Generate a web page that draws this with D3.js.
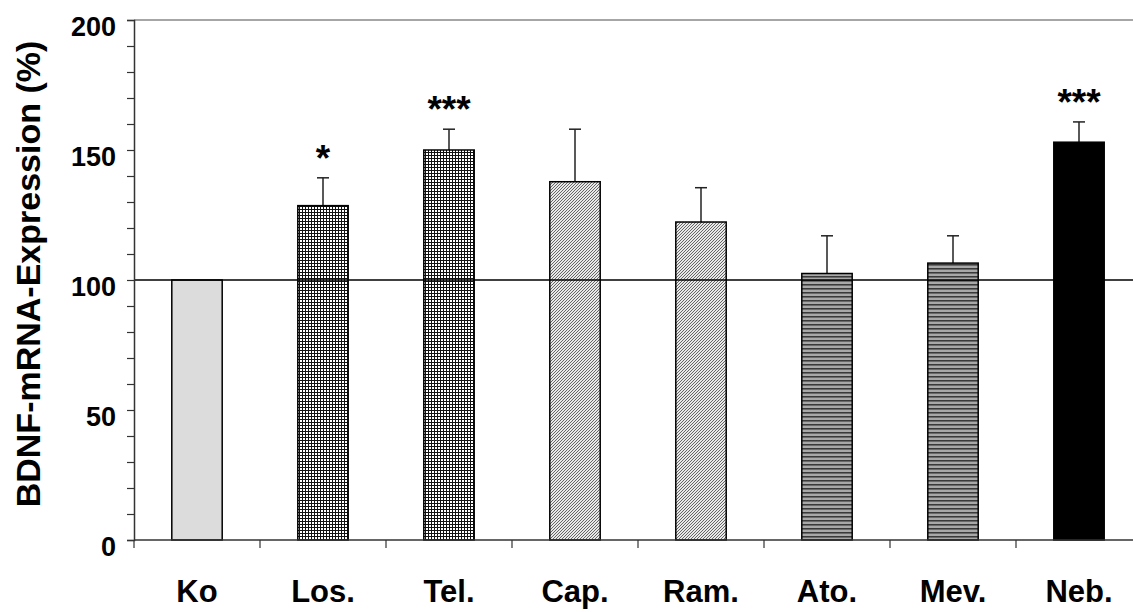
<!DOCTYPE html>
<html>
<head>
<meta charset="utf-8">
<script src="https://cdn.jsdelivr.net/npm/d3@7"></script>
<style>
  html, body { margin: 0; padding: 0; background: #fff; }
  svg { display: block; font-family: "Liberation Sans", Arial, sans-serif; }
</style>
</head>
<body>
<svg id="chart" width="1133" height="612"></svg>
<script>
// Treatment groups and BDNF mRNA expression (% of control)
const categories = ["Ko", "Los.", "Tel.", "Cap.", "Ram.", "Ato.", "Mev.", "Neb."];
const values     = [100, 128.6, 150, 137.8, 122.3, 102.5, 106.5, 153];
const errors     = [0, 10.7, 8, 20.2, 13.2, 14.5, 10.5, 7.8];
const stars      = ["", "*", "***", "", "", "", "", "***"];
const fills      = ["ko", "grid", "grid", "diag", "diag", "horiz", "horiz", "solid"];
const yTicks     = [0, 50, 100, 150, 200];
const yMinor     = d3.range(0, 201, 10);

const svg = d3.select("#chart");
const margin = { left: 134, top: 20, bottom: 540 };
const bandW = 126;

const x = d3.scaleBand()
  .domain(categories)
  .range([margin.left, margin.left + bandW * categories.length])
  .paddingInner(0.6)
  .paddingOuter(0.3);

const y = d3.scaleLinear().domain([0, 200]).range([margin.bottom, margin.top]);

// fill patterns
const defs = svg.append("defs");

const grid = defs.append("pattern").attr("id", "grid")
  .attr("patternUnits", "userSpaceOnUse").attr("width", 3).attr("height", 3);
grid.append("rect").attr("width", 3).attr("height", 3).attr("fill", "#fff");
grid.append("rect").attr("x", 0).attr("y", 2).attr("width", 3).attr("height", 1).attr("fill", "#111");
grid.append("rect").attr("x", 2).attr("y", 0).attr("width", 1).attr("height", 3).attr("fill", "#111");

const diag = defs.append("pattern").attr("id", "diag")
  .attr("patternUnits", "userSpaceOnUse").attr("width", 3).attr("height", 3);
diag.append("rect").attr("width", 3).attr("height", 3).attr("fill", "#e8e8e8");
diag.append("rect").attr("x", 2).attr("y", 0).attr("width", 1).attr("height", 1).attr("fill", "#666");
diag.append("rect").attr("x", 1).attr("y", 1).attr("width", 1).attr("height", 1).attr("fill", "#666");
diag.append("rect").attr("x", 0).attr("y", 2).attr("width", 1).attr("height", 1).attr("fill", "#666");

const horiz = defs.append("pattern").attr("id", "horiz")
  .attr("patternUnits", "userSpaceOnUse").attr("width", 4).attr("height", 4);
horiz.append("rect").attr("width", 4).attr("height", 4).attr("fill", "#a8a8a8");
horiz.append("rect").attr("x", 0).attr("y", 0).attr("width", 4).attr("height", 1).attr("fill", "#3a3a3a");
horiz.append("rect").attr("x", 0).attr("y", 1).attr("width", 4).attr("height", 1).attr("fill", "#6a6a6a");

const fillFor = k => k === "ko" ? "#dcdcdc" : k === "solid" ? "#000" : `url(#${k})`;

// top frame line
svg.append("line")
  .attr("x1", margin.left).attr("x2", 1133)
  .attr("y1", y(200)).attr("y2", y(200))
  .attr("stroke", "#888").attr("stroke-width", 1.5);

const data = categories.map((c, i) => ({ c, v: values[i], e: errors[i], s: stars[i], f: fills[i] }));

// error bars (upper half only)
const eb = svg.append("g");
data.filter(d => d.e > 0).forEach(d => {
  const cx = x(d.c) + x.bandwidth() / 2;
  eb.append("line").attr("x1", cx).attr("x2", cx)
    .attr("y1", y(d.v)).attr("y2", y(d.v + d.e))
    .attr("stroke", "#222").attr("stroke-width", 1.5);
  eb.append("line").attr("x1", cx - 6).attr("x2", cx + 6)
    .attr("y1", y(d.v + d.e)).attr("y2", y(d.v + d.e))
    .attr("stroke", "#222").attr("stroke-width", 1.5);
});

// bars
svg.append("g").selectAll("rect").data(data).join("rect")
  .attr("x", d => x(d.c))
  .attr("y", d => y(d.v))
  .attr("width", x.bandwidth())
  .attr("height", d => y(0) - y(d.v))
  .attr("fill", d => fillFor(d.f))
  .attr("stroke", "#000")
  .attr("stroke-width", 1.5);

// 100 % reference line
svg.append("line")
  .attr("x1", margin.left).attr("x2", 1133)
  .attr("y1", y(100)).attr("y2", y(100))
  .attr("stroke", "#000").attr("stroke-width", 1.5);

// significance marks
svg.append("g").selectAll("text").data(data.filter(d => d.s)).join("text")
  .attr("x", d => x(d.c) + x.bandwidth() / 2)
  .attr("y", d => y(d.v + d.e) - 7)
  .attr("text-anchor", "middle")
  .attr("font-size", 37).attr("font-weight", "bold")
  .text(d => d.s);

// y axis
const yAxisG = svg.append("g").attr("transform", `translate(${margin.left},0)`);
yAxisG.call(d3.axisLeft(y).tickValues(yMinor).tickSize(7).tickFormat(""))
  .call(g => g.select(".domain").attr("stroke", "#333").attr("stroke-width", 1.5))
  .call(g => g.selectAll(".tick line").attr("stroke", "#333").attr("stroke-width", 1.2));
yAxisG.append("g").selectAll("text").data(yTicks).join("text")
  .attr("x", -18).attr("y", d => y(d))
  .attr("dy", "0.6em")
  .attr("text-anchor", "end")
  .attr("font-size", 27).attr("font-weight", "bold").attr("fill", "#000")
  .text(d => d);

// x axis with ticks between groups
const xTickPos = d3.range(0, categories.length + 1).map(i => margin.left + i * bandW);
const xAxisG = svg.append("g");
xAxisG.append("line")
  .attr("x1", margin.left).attr("x2", 1133)
  .attr("y1", y(0)).attr("y2", y(0))
  .attr("stroke", "#333").attr("stroke-width", 1.5);
xAxisG.selectAll("line.tk").data(xTickPos).join("line").attr("class", "tk")
  .attr("x1", d => d).attr("x2", d => d)
  .attr("y1", y(0)).attr("y2", y(0) + 8)
  .attr("stroke", "#333").attr("stroke-width", 1.2);
xAxisG.selectAll("text").data(categories).join("text")
  .attr("x", d => x(d) + x.bandwidth() / 2)
  .attr("y", 602)
  .attr("text-anchor", "middle")
  .attr("font-size", 31).attr("font-weight", "bold")
  .text(d => d);

// y axis title
svg.append("text")
  .attr("transform", `translate(40,274) rotate(-90)`)
  .attr("text-anchor", "middle")
  .attr("font-size", 34).attr("font-weight", "bold")
  .text("BDNF-mRNA-Expression (%)");
</script>
</body>
</html>
